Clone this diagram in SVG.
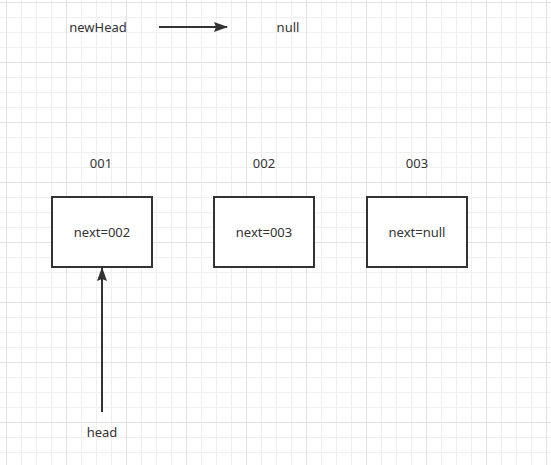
<svg xmlns="http://www.w3.org/2000/svg" width="551" height="465" viewBox="0 0 551 465">
  <defs>
    <pattern id="minor" x="6" y="2" width="15" height="15" patternUnits="userSpaceOnUse">
      <path d="M0 0.5H15M0.5 0V15" fill="none" stroke="#efefef" stroke-width="1"/>
    </pattern>
    <pattern id="major" x="6" y="2" width="60" height="60" patternUnits="userSpaceOnUse">
      <path d="M0 0.5H60M0.5 0V60" fill="none" stroke="#e2e2e2" stroke-width="1"/>
    </pattern>
    <marker id="arrow" viewBox="0 0 14 10" refX="13" refY="5" markerWidth="14" markerHeight="10" markerUnits="userSpaceOnUse" orient="auto">
      <path d="M0 0L14 5L0 10L2 5Z" fill="#333333"/>
    </marker>
  </defs>
  <style>
    text { font-family: "Noto Sans", "Liberation Sans", sans-serif; font-size: 13px; fill: #333333; text-anchor: middle; dominant-baseline: central; }
    .box { fill: #ffffff; stroke: #333333; stroke-width: 2; }
    .edge { fill: none; stroke: #333333; stroke-width: 2; marker-end: url(#arrow); }
  </style>
  <rect width="551" height="465" fill="#ffffff"/>
  <rect width="551" height="465" fill="url(#minor)"/>
  <rect width="551" height="465" fill="url(#major)"/>

  <g id="newHead"><text x="98" y="27">newHead</text></g>
  <g id="null"><text x="288" y="27">null</text></g>

  <g id="label001"><text x="101" y="163">001</text></g>
  <g id="label002"><text x="264" y="163">002</text></g>
  <g id="label003"><text x="417" y="163">003</text></g>

  <g id="node001">
    <rect class="box" x="52" y="197" width="100" height="70"/>
    <text x="102" y="232">next=002</text>
  </g>
  <g id="node002">
    <rect class="box" x="214" y="197" width="100" height="70"/>
    <text x="264" y="232">next=003</text>
  </g>
  <g id="node003">
    <rect class="box" x="367" y="197" width="100" height="70"/>
    <text x="417" y="232">next=null</text>
  </g>

  <g id="head"><text x="102" y="432">head</text></g>

  <g id="connectors">
    <path class="edge" d="M159 27H227"/>
    <path class="edge" d="M102 412V268"/>
  </g>
</svg>
